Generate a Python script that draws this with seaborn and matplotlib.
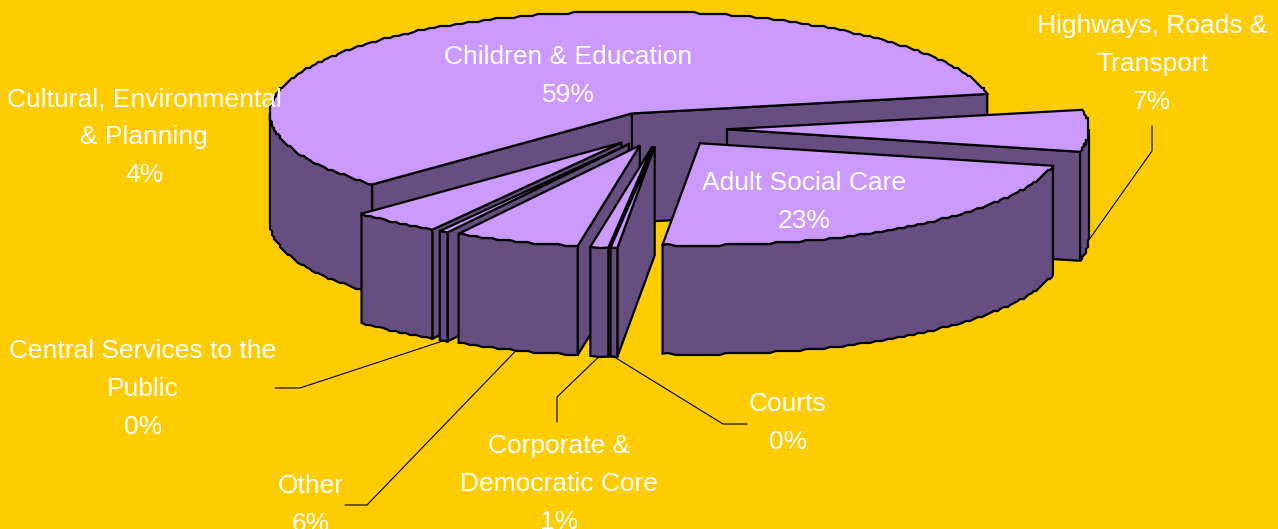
import numpy as np
import pandas as pd
import matplotlib
matplotlib.use('Agg')
import matplotlib.pyplot as plt
import seaborn as sns

# shares, counter-clockwise from the right hand edge of Children
services = ['Children & Education', 'Cultural, Environmental\n& Planning', 'Central Services to the\nPublic',
            'Other', 'Corporate &\nDemocratic Core', 'Courts', 'Adult Social Care', 'Highways, Roads &\nTransport']
shares = [59.2, 4.0, 0.4, 5.6, 0.8, 0.3, 23.1, 6.6]

# label centres, in pixels of the picture
label_x = [568, 144, 143, 311, 559, 788, 804, 1152]
label_y = [76, 137, 389, 505, 484, 423, 202, 64]

# leader lines: label side point, then knee, then on to the slice
leaders = {2: [(275, 388), (300, 388)],
           3: [(345, 505), (367, 505)],
           4: [(557, 422), (557, 397)],
           5: [(747, 424), (723, 424)],
           7: [(1152, 126), (1152, 151)]}

BG = '#FFCC00'
TOP = '#CC99FF'
WALL = '#664E80'

sns.set_style('white')
plt.rcParams['font.family'] = ['Liberation Sans', 'DejaVu Sans']

df = pd.DataFrame({'service': services, 'share': shares})
df['start'] = 11 + df['share'].cumsum().shift(fill_value=0) * 3.6
df['end'] = df['start'] + df['share'] * 3.6
df['mid'] = (df['start'] + df['end']) / 2

# pie geometry
cx, cy = 662, 129
rx, ry = 362, 102
explode = 65
explode_y = 0.27
depth = 109


def apex(mid):
    a = np.radians(mid)
    return cx + explode * np.cos(a), cy - explode * explode_y * np.sin(a)


def arc(mid, a0, a1):
    ax0, ay0 = apex(mid)
    t = np.radians(np.linspace(a0, a1, max(2, int(abs(a1 - a0)) + 1)))
    x = ax0 + rx * np.cos(t)
    y = ay0 - ry * np.sin(t)
    # the slightly stepped outline of the original
    x[1:-1], y[1:-1] = np.round(x[1:-1] / 2) * 2, np.round(y[1:-1] / 2) * 2
    return x, y


fig = plt.figure(figsize=(12.78, 5.29), dpi=100, facecolor=BG)
ax = fig.add_axes([0, 0, 1, 1], facecolor=BG)
ax.set_xlim(0, 1278)
ax.set_ylim(529, 0)
ax.axis('off')


def face(x, y, color):
    ax.fill(x, y, facecolor=color, edgecolor='black', linewidth=1.6, joinstyle='miter')


def draw_slice(row):
    px, py = apex(row.mid)
    # radial walls, only those turned towards the viewer
    for ang, normal in ((row.start, row.start - 90), (row.end, row.end + 90)):
        if np.sin(np.radians(normal)) < 0:
            ex, ey = arc(row.mid, ang, ang)
            ex, ey = ex[0], ey[0]
            face([px, ex, ex, px], [py, ey, ey + depth, py + depth], WALL)
    # outer wall on the front half of the ellipse
    for lo, hi in ((180, 360), (540, 720)):
        a0, a1 = max(row.start, lo), min(row.end, hi)
        if a1 > a0:
            x, y = arc(row.mid, a0, a1)
            face(np.r_[x, x[::-1]], np.r_[y, (y + depth)[::-1]], WALL)
    x, y = arc(row.mid, row.start, row.end)
    face(np.r_[px, x], np.r_[py, y], TOP)


# back to front
for i in [0, 7, 1, 2, 3, 4, 5, 6]:
    draw_slice(df.iloc[i])

for i, pts in leaders.items():
    row = df.iloc[i]
    px, py = apex(row.mid)
    a = np.radians(row.mid)
    end = (px + rx * np.cos(a), py - ry * np.sin(a) + depth)
    xs, ys = zip(*(pts + [end]))
    ax.plot(xs, ys, color='black', lw=0.8, solid_joinstyle='miter')

for i, row in df.iterrows():
    ax.text(label_x[i], label_y[i], f'{row.service}\n{row.share:.0f}%', color='white', fontsize=19,
            ha='center', va='center', ma='center', linespacing=1.72)

fig.savefig('out.png', dpi=100, facecolor=BG)
